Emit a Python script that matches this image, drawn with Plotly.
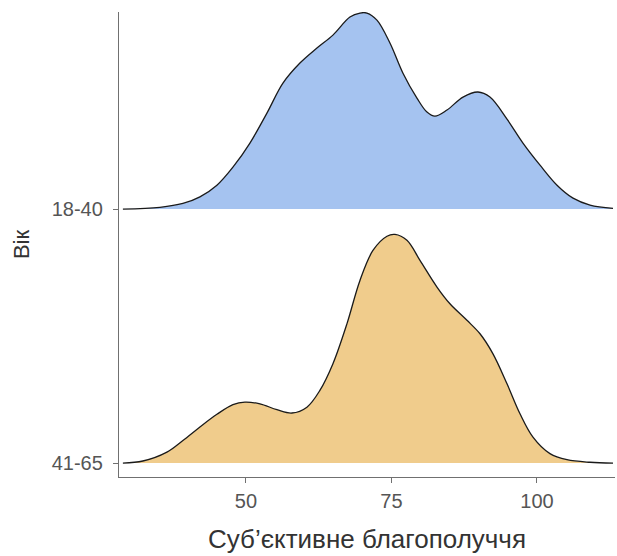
import plotly.graph_objects as go

# Ridgeline densities for subjective well-being by age group
groups = ["41-65", "18-40"]
group_pos = [1, 2]
fill_colors = ["#F0CC8C", "#A5C3F0"]

# 18-40: x values and density heights (in ridge units)
x_young = [28.87, 35.22, 39.18, 42.10, 45.02, 47.77, 50.69, 53.61, 56.36, 59.28,
           62.20, 64.95, 67.87, 69.59, 70.79, 72.51, 74.74, 76.98, 79.38, 81.10,
           82.47, 84.54, 87.29, 89.86, 91.92, 94.85, 97.59, 100.52, 103.44, 106.19,
           109.11, 113.06]
h_young = [0.0, 0.007, 0.022, 0.048, 0.094, 0.165, 0.260, 0.378, 0.496, 0.575,
           0.634, 0.685, 0.756, 0.772, 0.772, 0.744, 0.654, 0.535, 0.437, 0.382,
           0.366, 0.390, 0.441, 0.461, 0.441, 0.354, 0.260, 0.173, 0.094, 0.043,
           0.016, 0.003]

# 41-65
x_old = [28.87, 32.30, 36.43, 39.18, 42.10, 45.02, 47.77, 49.83, 52.41, 55.33,
         57.90, 60.48, 62.71, 64.95, 67.35, 69.59, 71.82, 74.23, 75.60, 77.66,
         79.90, 82.82, 85.05, 87.97, 90.21, 92.44, 94.85, 97.08, 99.31, 102.23,
         105.15, 109.11, 113.06]
h_old = [0.0, 0.008, 0.043, 0.089, 0.142, 0.192, 0.230, 0.240, 0.233, 0.210,
         0.197, 0.220, 0.286, 0.391, 0.548, 0.719, 0.837, 0.893, 0.900, 0.877,
         0.798, 0.693, 0.627, 0.562, 0.509, 0.430, 0.312, 0.194, 0.102, 0.037,
         0.013, 0.003, 0.0]

xs = [x_old, x_young]
hs = [h_old, h_young]

x_ticks = [50, 75, 100]

fig = go.Figure()
for x, h, base, col in zip(xs, hs, group_pos, fill_colors):
    # baseline of the ridge, then the density curve filled down to it
    fig.add_trace(go.Scatter(
        x=[x[0], x[-1]], y=[base, base], mode="lines",
        line=dict(width=0), hoverinfo="skip", showlegend=False))
    fig.add_trace(go.Scatter(
        x=x, y=[base + v for v in h], mode="lines",
        fill="tonexty", fillcolor=col,
        line=dict(color="#1a1a1a", width=1.3, shape="spline", smoothing=1.0),
        showlegend=False))

axis_common = dict(
    showline=True, linecolor="#707070", linewidth=1.4,
    ticks="outside", ticklen=5, tickcolor="#707070", tickwidth=1.3,
    showgrid=False, zeroline=False,
    tickfont=dict(size=20, color="#555555"),
)

fig.update_layout(
    width=617, height=556,
    margin=dict(l=119, r=2, t=12, b=79),
    paper_bgcolor="white", plot_bgcolor="white",
    font=dict(family="Liberation Sans, Arial, sans-serif"),
    xaxis=dict(range=[28.2, 113.4], tickvals=x_ticks,
               ticklabelstandoff=1,
               title=dict(text="Суб’єктивне благополуччя",
                          font=dict(size=26, color="#333333"), standoff=18),
               **axis_common),
    yaxis=dict(range=[0.945, 2.776], tickvals=group_pos, ticktext=groups,
               ticklabelstandoff=6,
               title=dict(text="Вік", font=dict(size=22, color="#333333"), standoff=15),
               **axis_common),
)

fig.write_html("out.html")
